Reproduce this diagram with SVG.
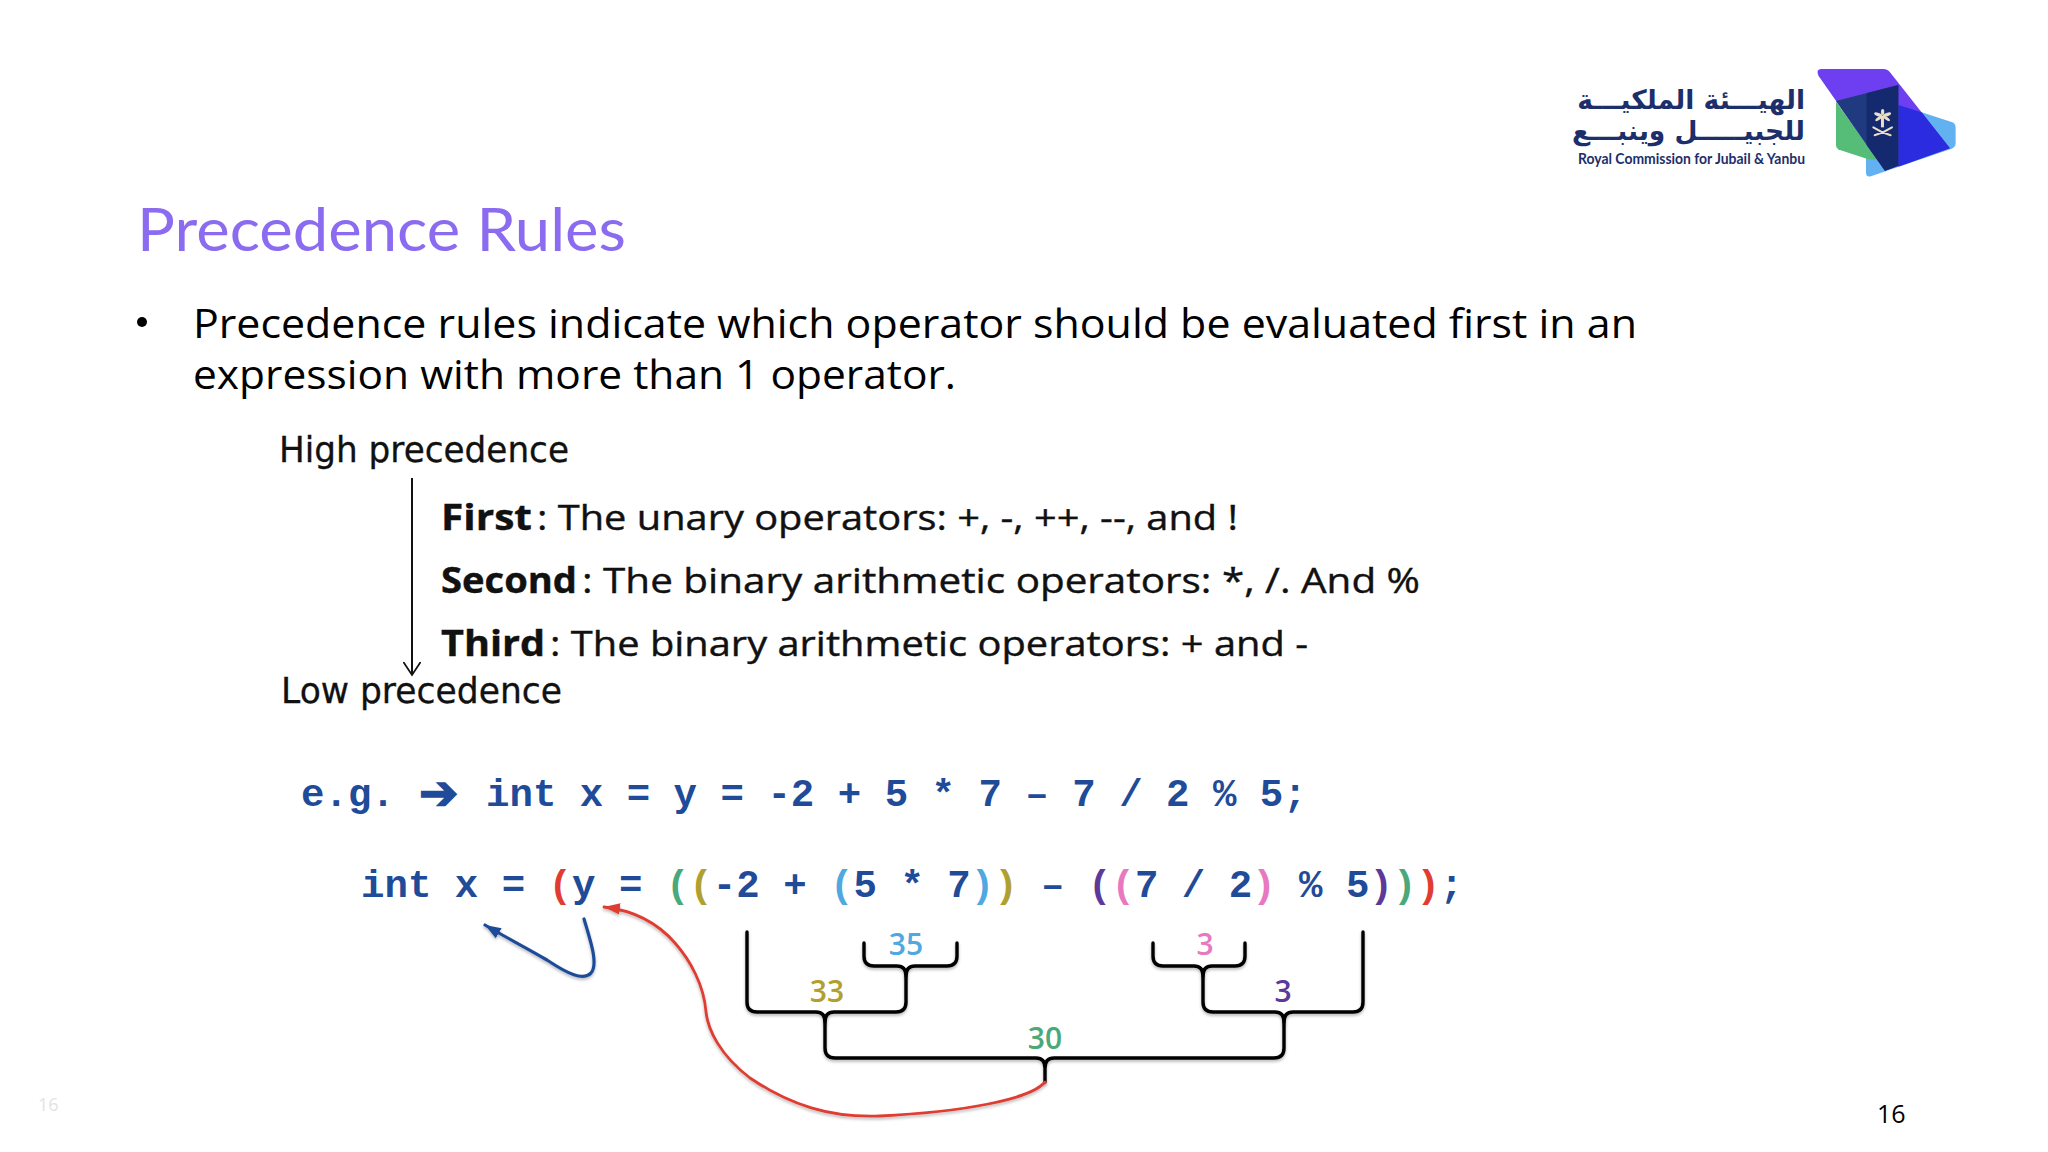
<svg xmlns="http://www.w3.org/2000/svg" width="2048" height="1152" viewBox="0 0 2048 1152">
<style>
.title{font-family:"Lato","Liberation Sans",sans-serif;font-size:60px;fill:#8b6cf0}
.body{font-family:"Open Sans","Noto Sans",sans-serif;font-size:41px;fill:#000}
.hl{font-family:"DejaVu Sans",sans-serif;font-size:35px;fill:#111;stroke:#111;stroke-width:.3}
.rule{font-family:"Open Sans","DejaVu Sans",sans-serif;font-size:35px;fill:#111;stroke:#111;stroke-width:.4}
.b{font-weight:700}
.code{font-family:"Liberation Mono",monospace;font-weight:700;font-size:39.1px;fill:#1f4b99}
.num{font-family:"Open Sans","Lato",sans-serif;font-weight:600;font-size:30px;text-anchor:middle}
.r{fill:#e03c31}.g{fill:#4aa87a}.o{fill:#b0a02f}.l{fill:#4fa8e0}.p{fill:#5b3a9a}.k{fill:#e878c0}
.br{fill:none;stroke:#000;stroke-width:3.4;stroke-linecap:round;stroke-linejoin:round;filter:url(#sh)}
.ar{font-family:"DejaVu Sans",sans-serif;font-weight:700;fill:#1c2f6b;font-size:26.5px}
</style>
<defs>
<filter id="sh" x="-10%" y="-10%" width="120%" height="130%"><feDropShadow dx="0" dy="2" stdDeviation="1.5" flood-color="#000" flood-opacity=".28"/></filter>
<marker id="open" markerWidth="18" markerHeight="18" refX="9" refY="6" orient="auto" markerUnits="userSpaceOnUse" viewBox="0 0 12 12"><path d="M0 0L9 6L0 12" fill="none" stroke="#111" stroke-width="1.2"/></marker>
<marker id="redh" markerWidth="16" markerHeight="12" refX="14" refY="5" orient="auto" markerUnits="userSpaceOnUse" viewBox="0 0 14 10"><path d="M0 0L14 5L0 10Z" fill="#e03c31"/></marker>
<marker id="blueh" markerWidth="16" markerHeight="13" refX="14" refY="5" orient="auto" markerUnits="userSpaceOnUse" viewBox="0 0 14 10"><path d="M0 0L14 5L0 10Z" fill="#1f4b99"/></marker>
</defs>
<rect width="2048" height="1152" fill="#fff"/>

<g id="logo">
<g transform="translate(1560 50) scale(.3333)">
<path d="M1085 187L1175 216Q1187 220 1187 232V280Q1187 292 1175 296L935 378Q918 384 918 366V325Z" fill="#62b2f2"/>
<path d="M828 155L955 330L925 328L840 300Q828 296 828 284Z" fill="#55bd78"/>
<path d="M785 57H970Q982 57 990 67L1170 295L975 362L776 78Q766 57 785 57Z" fill="#6d3ff0"/>
<path d="M1015 165L1085 187L1170 295L1015 350Z" fill="#2b2be0"/>
<path d="M828 153L1015 105V347L975 362Z" fill="#1f3a7e"/>
<path d="M920 130L1015 105V347L975 362L920 285Z" fill="#14296e"/>
<g fill="#eadfc6">
<rect x="963" y="198" width="9" height="34"/>
<ellipse cx="955" cy="194" rx="13" ry="5" transform="rotate(20 955 194)"/>
<ellipse cx="981" cy="194" rx="13" ry="5" transform="rotate(-20 981 194)"/>
<ellipse cx="957" cy="205" rx="13" ry="4.5" transform="rotate(-35 957 205)"/>
<ellipse cx="979" cy="205" rx="13" ry="4.5" transform="rotate(35 979 205)"/>
<ellipse cx="968" cy="186" rx="5" ry="9"/>
</g>
<path d="M940 232Q965 248 992 256M996 232Q971 248 944 256" fill="none" stroke="#eadfc6" stroke-width="6" stroke-linecap="round"/>
</g>
<text class="ar" x="1805" y="109" direction="rtl">الهيـــئة الملكيـــة</text>
<text class="ar" x="1805" y="140" direction="rtl">للجبيـــــل وينبـــع</text>
<text x="1578" y="164" font-family="Lato,'Open Sans',sans-serif" font-weight="700" font-size="15px" fill="#1c2f6b" textLength="227" lengthAdjust="spacingAndGlyphs">Royal Commission for Jubail &amp; Yanbu</text>
</g>

<g id="title"><text class="title" x="137" y="251" textLength="489" lengthAdjust="spacingAndGlyphs">Precedence Rules</text></g>

<g id="body">
<circle cx="142" cy="322" r="5" fill="#000"/>
<text class="body" x="193" y="338" textLength="1444" lengthAdjust="spacingAndGlyphs">Precedence rules indicate which operator should be evaluated first in an</text>
<text class="body" x="193" y="389" textLength="763" lengthAdjust="spacingAndGlyphs">expression with more than 1 operator.</text>
</g>

<g id="precedence">
<text class="hl" x="279" y="462" textLength="290" lengthAdjust="spacingAndGlyphs">High precedence</text>
<text class="hl" x="281" y="703" textLength="281" lengthAdjust="spacingAndGlyphs">Low precedence</text>
<text class="rule" x="441" y="530"><tspan class="b" textLength="91" lengthAdjust="spacingAndGlyphs">First</tspan><tspan x="537" textLength="701" lengthAdjust="spacingAndGlyphs">: The unary operators: +, -, ++, --, and !</tspan></text>
<text class="rule" x="441" y="593"><tspan class="b" textLength="136" lengthAdjust="spacingAndGlyphs">Second</tspan><tspan x="582" textLength="838" lengthAdjust="spacingAndGlyphs">: The binary arithmetic operators: *, /. And %</tspan></text>
<text class="rule" x="441" y="656"><tspan class="b" textLength="104" lengthAdjust="spacingAndGlyphs">Third</tspan><tspan x="550" textLength="758" lengthAdjust="spacingAndGlyphs">: The binary arithmetic operators: + and -</tspan></text>
</g>

<g id="code">
<text class="code" x="301" y="806">e.g.</text>
<text x="419" y="809" font-family="DejaVu Sans,sans-serif" font-size="47px" font-weight="700" fill="#1f4b99" stroke="#1f4b99" stroke-width="1.6">➔</text>
<text class="code" x="486" y="806">int x = y = -2 + 5 * 7 – 7 / 2 % 5;</text>
<text class="code" x="361" y="897">int x = <tspan class="r">(</tspan>y = <tspan class="g">(</tspan><tspan class="o">(</tspan>-2 + <tspan class="l">(</tspan>5 * 7<tspan class="l">)</tspan><tspan class="o">)</tspan> – <tspan class="p">(</tspan><tspan class="k">(</tspan>7 / 2<tspan class="k">)</tspan> % 5<tspan class="p">)</tspan><tspan class="g">)</tspan><tspan class="r">)</tspan>;</text>
</g>

<g id="results">
<text class="num l" x="906" y="955">35</text>
<text class="num o" x="827" y="1002">33</text>
<text class="num k" x="1205" y="955">3</text>
<text class="num p" x="1283" y="1002">3</text>
<text class="num g" x="1045" y="1049">30</text>
</g>

<g id="connectors">
<path d="M412 478V675" fill="none" stroke="#111" stroke-width="2" marker-end="url(#open)"/>
<path class="br" d="M864 943V956Q864 966 874 966H897Q906 966 906 976Q906 966 915 966H947Q957 966 957 956V943"/>
<path class="br" d="M747 932V1002Q747 1012 757 1012H816Q825 1012 825 1022Q825 1012 834 1012H896Q906 1012 906 1002V976"/>
<path class="br" d="M1153 943V956Q1153 966 1163 966H1194Q1203 966 1203 976Q1203 966 1212 966H1235Q1245 966 1245 956V943"/>
<path class="br" d="M1203 976V1002Q1203 1012 1213 1012H1275Q1284 1012 1284 1022Q1284 1012 1293 1012H1353Q1363 1012 1363 1002V932"/>
<path class="br" d="M825 1022V1048Q825 1058 835 1058H1036Q1045 1058 1045 1068V1082M1045 1068Q1045 1058 1054 1058H1274Q1284 1058 1284 1048V1022"/>
<path d="M1045 1082C1030 1100 960 1112 880 1116C830 1118 790 1105 750 1078C720 1055 708 1030 706 1012C704 985 690 960 675 943C655 920 630 910 604 907" fill="none" stroke="#e03c31" stroke-width="2.8" stroke-linecap="round" marker-end="url(#redh)" filter="url(#sh)"/>
<path d="M584 919C592 945 598 965 591 973C583 981 568 974 547 960C525 947 505 937 485 925" fill="none" stroke="#1f4b99" stroke-width="3.2" stroke-linecap="round" marker-end="url(#blueh)" filter="url(#sh)"/>
</g>

<g id="footer">
<text x="38" y="1111" font-family="Open Sans,sans-serif" font-size="18px" fill="#e6e2e2">16</text>
<text x="1877" y="1123" font-family="Open Sans,sans-serif" font-size="25px" fill="#000">16</text>
</g>
</svg>
